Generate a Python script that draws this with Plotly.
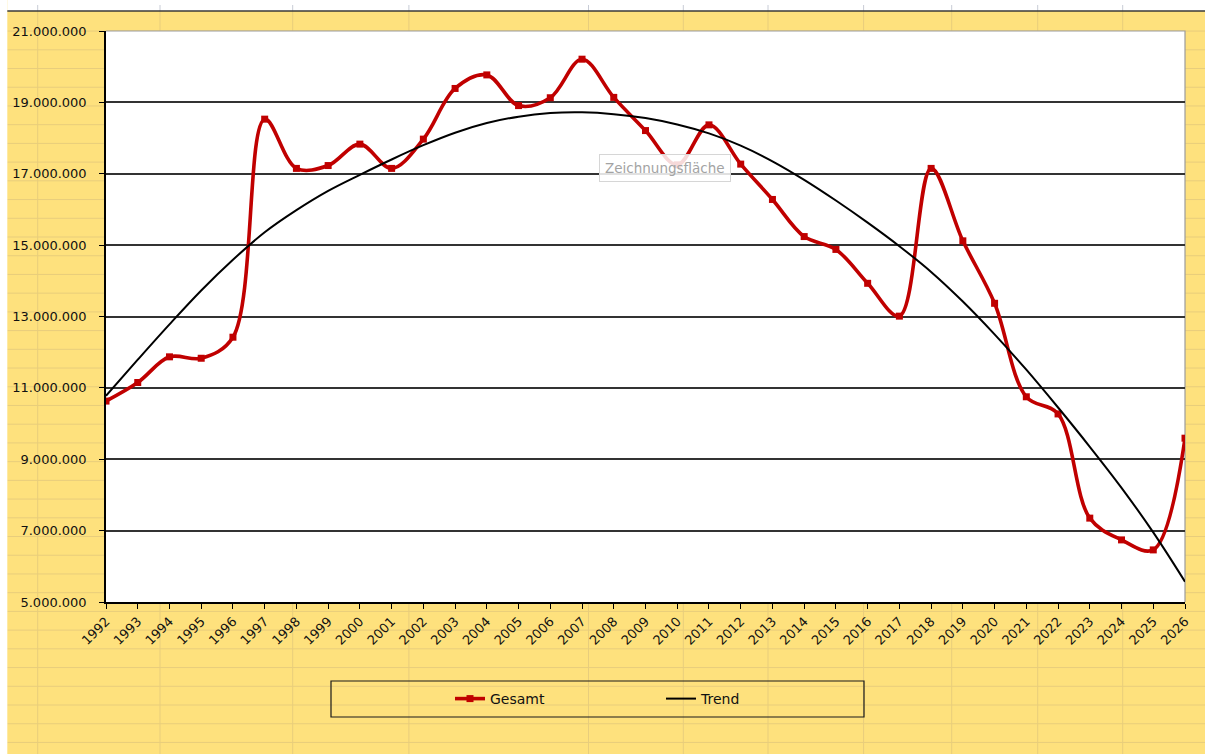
import plotly.graph_objects as go

# ---------------- data ----------------
years = [1992, 1993, 1994, 1995, 1996, 1997, 1998, 1999, 2000, 2001, 2002, 2003,
         2004, 2005, 2006, 2007, 2008, 2009, 2010, 2011, 2012, 2013, 2014, 2015,
         2016, 2017, 2018, 2019, 2020, 2021, 2022, 2023, 2024, 2025, 2026]

gesamt = [10630000, 11150000, 11870000, 11830000, 12420000, 18530000, 17150000,
          17230000, 17830000, 17150000, 17970000, 19390000, 19770000, 18910000,
          19130000, 20210000, 19140000, 18210000, 17250000, 18370000, 17270000,
          16280000, 15240000, 14880000, 13930000, 13010000, 17150000, 15120000,
          13370000, 10750000, 10270000, 7350000, 6740000, 6460000, 9590000]

trend = [10780000, 11790000, 12780000, 13730000, 14590000, 15360000, 15980000,
         16520000, 16970000, 17400000, 17800000, 18150000, 18420000, 18600000,
         18700000, 18720000, 18670000, 18560000, 18380000, 18130000, 17790000,
         17350000, 16830000, 16250000, 15630000, 14970000, 14250000, 13420000,
         12500000, 11510000, 10450000, 9350000, 8200000, 6950000, 5570000]

y_ticks = [5000000, 7000000, 9000000, 11000000, 13000000, 15000000,
           17000000, 19000000, 21000000]

series_names = ["Gesamt", "Trend"]
tooltip_text = "Zeichnungsfläche"

# ---------------- layout helpers (pixel -> paper) ----------------
W, H = 1205, 754
PL, PT, PR, PB = 106, 31, 1185, 602
PW, PH = PR - PL, PB - PT


def X(p):
    return (p - PL) / PW


def Y(p):
    return (PB - p) / PH


YELLOW = "#FEE17D"
SHEET_LINE = "#E8CD7C"
RED = "#C00000"
COLS = [37.7, 160, 292.7, 408.9, 588.5, 683.3, 768, 863.6, 951.7, 1037.7, 1122.7]

shapes = []
# spreadsheet row lines
k = -1
while True:
    yy = 49.8 + 18.72 * k
    if yy > 754:
        break
    if yy > 12:
        shapes.append(dict(type="line", xref="paper", yref="paper", layer="below",
                           x0=X(7.3), x1=X(W), y0=Y(yy), y1=Y(yy),
                           line=dict(color=SHEET_LINE, width=1)))
    k += 1
# spreadsheet column lines
for cx in COLS:
    shapes.append(dict(type="line", xref="paper", yref="paper", layer="below",
                       x0=X(cx), x1=X(cx), y0=Y(11), y1=Y(H),
                       line=dict(color=SHEET_LINE, width=1)))
# white strips (left and top)
shapes.append(dict(type="rect", xref="paper", yref="paper", layer="below",
                   x0=X(0), x1=X(7.3), y0=Y(0), y1=Y(H),
                   fillcolor="white", line=dict(width=0)))
shapes.append(dict(type="rect", xref="paper", yref="paper", layer="below",
                   x0=X(7.3), x1=X(W), y0=Y(0), y1=Y(11),
                   fillcolor="white", line=dict(width=0)))
for cx in COLS:
    shapes.append(dict(type="line", xref="paper", yref="paper", layer="below",
                       x0=X(cx), x1=X(cx), y0=Y(5), y1=Y(11),
                       line=dict(color="#C8CCD6", width=1)))
shapes.append(dict(type="line", xref="paper", yref="paper", layer="below",
                   x0=X(7.3), x1=X(W), y0=Y(11), y1=Y(11),
                   line=dict(color="#3A3A3A", width=1.5)))
# white plot area
shapes.append(dict(type="rect", xref="paper", yref="paper", layer="below",
                   x0=0, x1=1, y0=0, y1=1, fillcolor="white", line=dict(width=0)))
# plot area border (top/right)
shapes.append(dict(type="path", xref="paper", yref="paper", layer="below",
                   path="M 0 1 L 1 1 L 1 0",
                   line=dict(color="#9C9C9C", width=1.2)))
# legend box
shapes.append(dict(type="rect", xref="paper", yref="paper", layer="below",
                   x0=X(331), x1=X(864), y0=Y(717), y1=Y(681),
                   line=dict(color="#1A1A1A", width=1.2)))

fig = go.Figure()
fig.add_trace(go.Scatter(
    x=years, y=gesamt, name=series_names[0], mode="lines+markers",
    line=dict(color=RED, width=3.6, shape="spline", smoothing=1.0),
    marker=dict(symbol="square", size=7, color=RED),
))
fig.add_trace(go.Scatter(
    x=years, y=trend, name=series_names[1], mode="lines",
    line=dict(color="black", width=2, shape="spline", smoothing=1.0),
))

tick_font = dict(family="DejaVu Sans", size=13, color="#111111")

fig.update_layout(
    width=W, height=H,
    margin=dict(l=PL, r=W - PR, t=PT, b=H - PB, pad=0),
    paper_bgcolor=YELLOW,
    plot_bgcolor="rgba(0,0,0,0)",
    separators=",.",
    font=dict(family="DejaVu Sans", size=13, color="#111111"),
    showlegend=True,
    legend=dict(orientation="h", x=X(450), xanchor="left", y=Y(699), yanchor="middle",
                bgcolor="rgba(0,0,0,0)", borderwidth=0,
                font=dict(family="DejaVu Sans", size=14, color="#111111"),
                entrywidth=166, entrywidthmode="pixels", itemwidth=30),
    shapes=shapes,
    annotations=[dict(text=tooltip_text, xref="paper", yref="paper",
                      x=X(665), y=Y(167.5), xanchor="center", yanchor="middle",
                      showarrow=False,
                      font=dict(family="DejaVu Sans", size=13.5, color="#A3A3A3"),
                      bgcolor="rgba(255,255,255,0.85)", bordercolor="#D6D6D6",
                      borderwidth=1, borderpad=5)],
    xaxis=dict(range=[years[0], years[-1]], tickmode="array", tickvals=years,
               ticktext=[str(v) for v in years], tickangle=-45,
               showgrid=False, zeroline=False,
               showline=True, linecolor="black", linewidth=1.5,
               ticks="outside", ticklen=5, tickcolor="black", tickwidth=1.2,
               tickfont=tick_font),
    yaxis=dict(range=[y_ticks[0], y_ticks[-1]], tickmode="array", tickvals=y_ticks,
               tickformat=",d", showgrid=True, gridcolor="#333333", gridwidth=1.5,
               zeroline=False, showline=True, linecolor="black", linewidth=1.5,
               ticks="outside", ticklen=5, tickcolor="black", tickwidth=1.2,
               ticklabelstandoff=10, tickfont=tick_font),
)

fig.write_html("out.html", config={"displayModeBar": False},
               post_script="document.body.style.margin='0';document.body.style.overflow='hidden';")
